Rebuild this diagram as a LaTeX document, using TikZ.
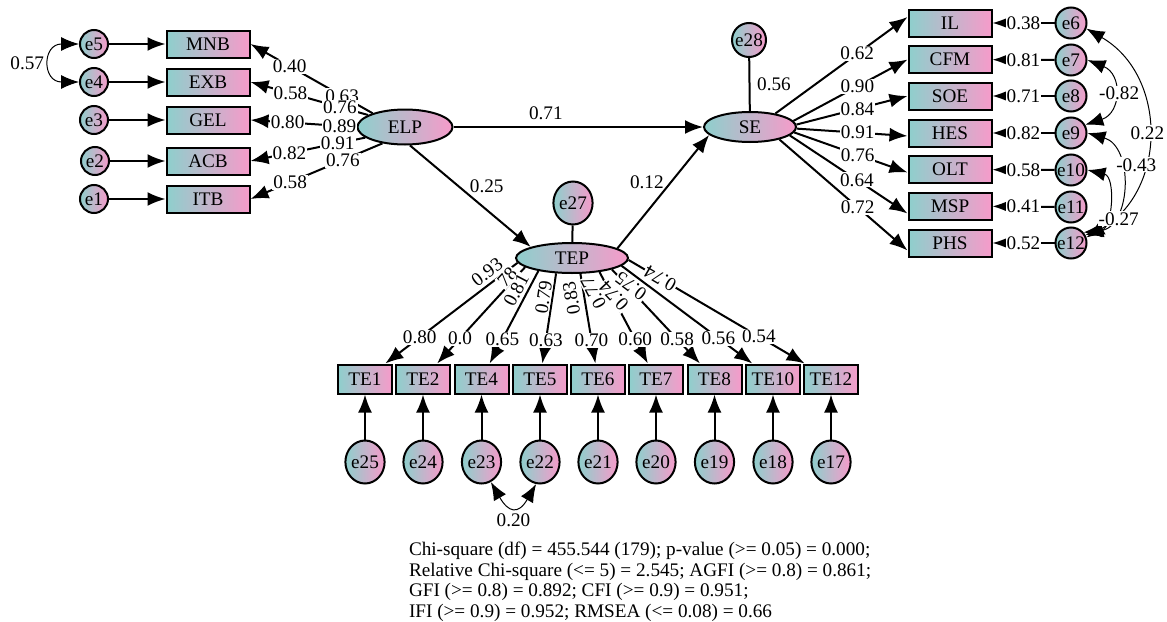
\documentclass[tikz,border=0pt]{standalone}
\usepackage{fontspec}
\setmainfont{Liberation Serif}
\usetikzlibrary{arrows.meta, shapes.geometric}
\definecolor{tealish}{RGB}{142,207,204}
\definecolor{pinkish}{RGB}{246,155,202}

\begin{document}
\begin{tikzpicture}[x=0.5pt, y=-0.5pt, line width=1pt, >={Latex[length=9pt, width=7pt]},
    font=\fontsize{9.6}{10.25}\selectfont,
    grad/.style={left color=tealish, right color=pinkish, draw=black},
    item/.style={grad, rectangle, minimum width=41.5pt, minimum height=13.5pt, inner sep=0pt},
    titem/.style={item, minimum width=27pt, minimum height=14.5pt},
    latent/.style={grad, ellipse, inner sep=0pt},
    err/.style={grad, circle, minimum size=14pt, inner sep=0pt},
    rerr/.style={err, minimum size=15.5pt},
    terr/.style={grad, ellipse, minimum width=18pt, minimum height=21.5pt, inner sep=0pt},
    coef/.style={fill=white, inner sep=0.5pt},
    tilted/.style={coef, sloped, allow upside down},
    cov/.style={<->, line width=0.5pt}]

    \useasboundingbox (0, 0) rectangle (1167, 621);

    % Nodes
    \node[err] at (94, 44) (e5) {e5};
    \node[err] at (94, 82) (e4) {e4};
    \node[err] at (94, 120) (e3) {e3};
    \node[err] at (95, 161) (e2) {e2};
    \node[err] at (94, 199) (e1) {e1};
    \node[item] at (208, 44) (MNB) {MNB};
    \node[item] at (208, 82) (EXB) {EXB};
    \node[item] at (208, 120) (GEL) {GEL};
    \node[item] at (208, 161) (ACB) {ACB};
    \node[item] at (208, 199) (ITB) {ITB};
    \node[latent, minimum width=47.5pt, minimum height=17.5pt] at (405, 127) (ELP) {ELP};

    \node[latent, minimum width=46pt, minimum height=15pt] at (750, 127) (SE) {SE};
    \node[err, minimum size=17pt] at (749, 40) (e28) {e28};
    \node[item] at (950, 23) (IL) {IL};
    \node[item] at (950, 59.5) (CFM) {CFM};
    \node[item] at (950, 96) (SOE) {SOE};
    \node[item] at (950, 133) (HES) {HES};
    \node[item] at (950, 169.5) (OLT) {OLT};
    \node[item] at (950, 206) (MSP) {MSP};
    \node[item] at (950, 243) (PHS) {PHS};
    \node[rerr] at (1071, 23) (e6) {e6};
    \node[rerr] at (1071, 60) (e7) {e7};
    \node[rerr] at (1071, 96) (e8) {e8};
    \node[rerr] at (1071, 133) (e9) {e9};
    \node[rerr] at (1071, 170) (e10) {e10};
    \node[rerr] at (1071, 207) (e11) {e11};
    \node[rerr] at (1071, 243) (e12) {e12};

    \node[latent, minimum width=56pt, minimum height=15pt] at (572, 258) (TEP) {TEP};
    \node[terr] at (573, 203) (e27) {e27};
    \node[titem] at (365, 379) (TE1) {TE1};
    \node[titem] at (423, 379) (TE2) {TE2};
    \node[titem] at (481.5, 379) (TE4) {TE4};
    \node[titem] at (540, 379) (TE5) {TE5};
    \node[titem] at (598, 379) (TE6) {TE6};
    \node[titem] at (656, 379) (TE7) {TE7};
    \node[titem] at (714.5, 379) (TE8) {TE8};
    \node[titem] at (773, 379) (TE10) {TE10};
    \node[titem] at (831, 379) (TE12) {TE12};
    \node[terr] at (365, 462) (e25) {e25};
    \node[terr] at (423, 462) (e24) {e24};
    \node[terr] at (481.5, 462) (e23) {e23};
    \node[terr] at (540, 462) (e22) {e22};
    \node[terr] at (598, 462) (e21) {e21};
    \node[terr] at (656, 462) (e20) {e20};
    \node[terr] at (714.5, 462) (e19) {e19};
    \node[terr] at (773, 462) (e18) {e18};
    \node[terr] at (831, 462) (e17) {e17};

    \node[anchor=west, align=left, inner sep=0pt] at (408, 582) (fit) {Chi-square (df) = 455.544 (179); p-value (>= 0.05) = 0.000;\\
        Relative Chi-square (<= 5) = 2.545; AGFI (>= 0.8) = 0.861;\\
        GFI (>= 0.8) = 0.892; CFI (>= 0.9) = 0.951;\\
        IFI (>= 0.9) = 0.952; RMSEA (<= 0.08) = 0.66};

    % Errors to items
    \draw[->] (e5) -- (MNB);
    \draw[->] (e4) -- (EXB);
    \draw[->] (e3) -- (GEL);
    \draw[->] (e2) -- (ACB);
    \draw[->] (e1) -- (ITB);
    \draw[->] (e6) -- (IL) node[coef, midway] {0.38};
    \draw[->] (e7) -- (CFM) node[coef, midway] {0.81};
    \draw[->] (e8) -- (SOE) node[coef, midway] {0.71};
    \draw[->] (e9) -- (HES) node[coef, midway] {0.82};
    \draw[->] (e10) -- (OLT) node[coef, midway] {0.58};
    \draw[->] (e11) -- (MSP) node[coef, midway] {0.41};
    \draw[->] (e12) -- (PHS) node[coef, midway] {0.52};
    \draw[->] (e25) -- (TE1);
    \draw[->] (e24) -- (TE2);
    \draw[->] (e23) -- (TE4);
    \draw[->] (e22) -- (TE5);
    \draw[->] (e21) -- (TE6);
    \draw[->] (e20) -- (TE7);
    \draw[->] (e19) -- (TE8);
    \draw[->] (e18) -- (TE10);
    \draw[->] (e17) -- (TE12);
    \draw (e28) -- (SE) node[midway, right] {0.56};
    \draw (e27) -- (TEP);

    % Loadings
    \draw[->] (ELP.157) -- (MNB.east) node[coef, pos=0.25] {0.63} node[coef, pos=0.68] {0.40};
    \draw[->] (ELP.162) -- (EXB.east) node[coef, pos=0.24] {0.76} node[coef, pos=0.66] {0.58};
    \draw[->] (ELP.180) -- (GEL.east) node[coef, pos=0.16] {0.89} node[coef, pos=0.65] {0.80};
    \draw[->] (ELP.195) -- (ACB.east) node[coef, pos=0.24] {0.91} node[coef, pos=0.66] {0.82};
    \draw[->] (ELP.216) -- (ITB.east) node[coef, pos=0.30] {0.76} node[coef, pos=0.70] {0.58};

    \draw[->] (SE.28) -- (IL.172) node[coef, pos=0.62] {0.62};
    \draw[->] (SE.8) -- (CFM.west) node[coef, pos=0.56] {0.90};
    \draw[->] (SE.3) -- (SOE.west) node[coef, pos=0.55] {0.84};
    \draw[->] (SE.-2) -- (HES.184) node[coef, pos=0.55] {0.91};
    \draw[->] (SE.-7) -- (OLT.184) node[coef, pos=0.56] {0.76};
    \draw[->] (SE.-12) -- (MSP.190) node[coef, pos=0.57] {0.64};
    \draw[->] (SE.-23) -- (PHS.190) node[coef, pos=0.61] {0.72};

    \draw[<-] (TE1) -- (TEP.185) node[coef, pos=0.26] {0.80} node[tilted, above=1.3pt, pos=0.82] {0.93};
    \draw[<-] (TE2) -- (TEP.191) node[coef, pos=0.26] {0.0} node[tilted, above=-1pt, pos=0.85] {78};
    \draw[<-] (TE4) -- (TEP.201) node[coef, pos=0.26] {0.65} node[tilted, above=1.1pt, pos=0.74] {0.81};
    \draw[<-] (TE5) -- (TEP.224) node[coef, pos=0.26] {0.63} node[tilted, above=0.1pt, pos=0.72] {0.79};
    \draw[<-] (TE6) -- (TEP.298) node[coef, pos=0.26] {0.70} node[tilted, above=2.2pt, pos=0.75] {0.83};
    \draw[<-] (TE7) -- (TEP.333) node[coef, pos=0.26] {0.60} node[tilted, above=3.3pt, pos=0.85] {0.77};
    \draw[<-] (TE8) -- (TEP.344) node[coef, pos=0.26] {0.58} node[tilted, above=4pt, pos=0.84] {0.74};
    \draw[<-] (TE10) -- (TEP.351) node[coef, pos=0.26] {0.56} node[tilted, above=1pt, pos=0.88] {0.75};
    \draw[<-] (TE12) -- (TEP.358) node[coef, pos=0.26] {0.54} node[tilted, pos=0.82] {0.74};

    % Structural paths
    \draw[->] (ELP) -- (SE) node[pos=0.37, above] {0.71};
    \draw[->] (ELP.285) -- (TEP.165) node[pos=0.4, right, xshift=2pt] {0.25};
    \draw[->] (TEP.12) -- (SE.191) node[midway, above left, xshift=4pt, yshift=-2.5pt] {0.12};

    % Covariances
    \draw[cov] (e5.west) to[out=180, in=180, looseness=2.5] node[midway, left] {0.57} (e4.west);
    \draw[cov] (e6.-20) to[bend left=60, looseness=1.15] node[coef, midway] {0.22} (e12.20);
    \draw[cov] (e7.east) to[bend left=70, looseness=1.5] node[coef, midway, xshift=3pt] {-0.82} (e9.30);
    \draw[cov] (e9.east) to[bend left=75, looseness=1.2] node[coef, pos=0.35, xshift=9pt] {-0.43} (e12.30);
    \draw[cov] (e10.east) to[bend left=80, looseness=1.2] node[coef, pos=0.7, xshift=8pt] {-0.27} (e12.40);
    \draw[cov] (e23.-65) to[out=-60, in=-120, looseness=2] node[midway, below] {0.20} (e22.-100);

\end{tikzpicture}
\end{document}
